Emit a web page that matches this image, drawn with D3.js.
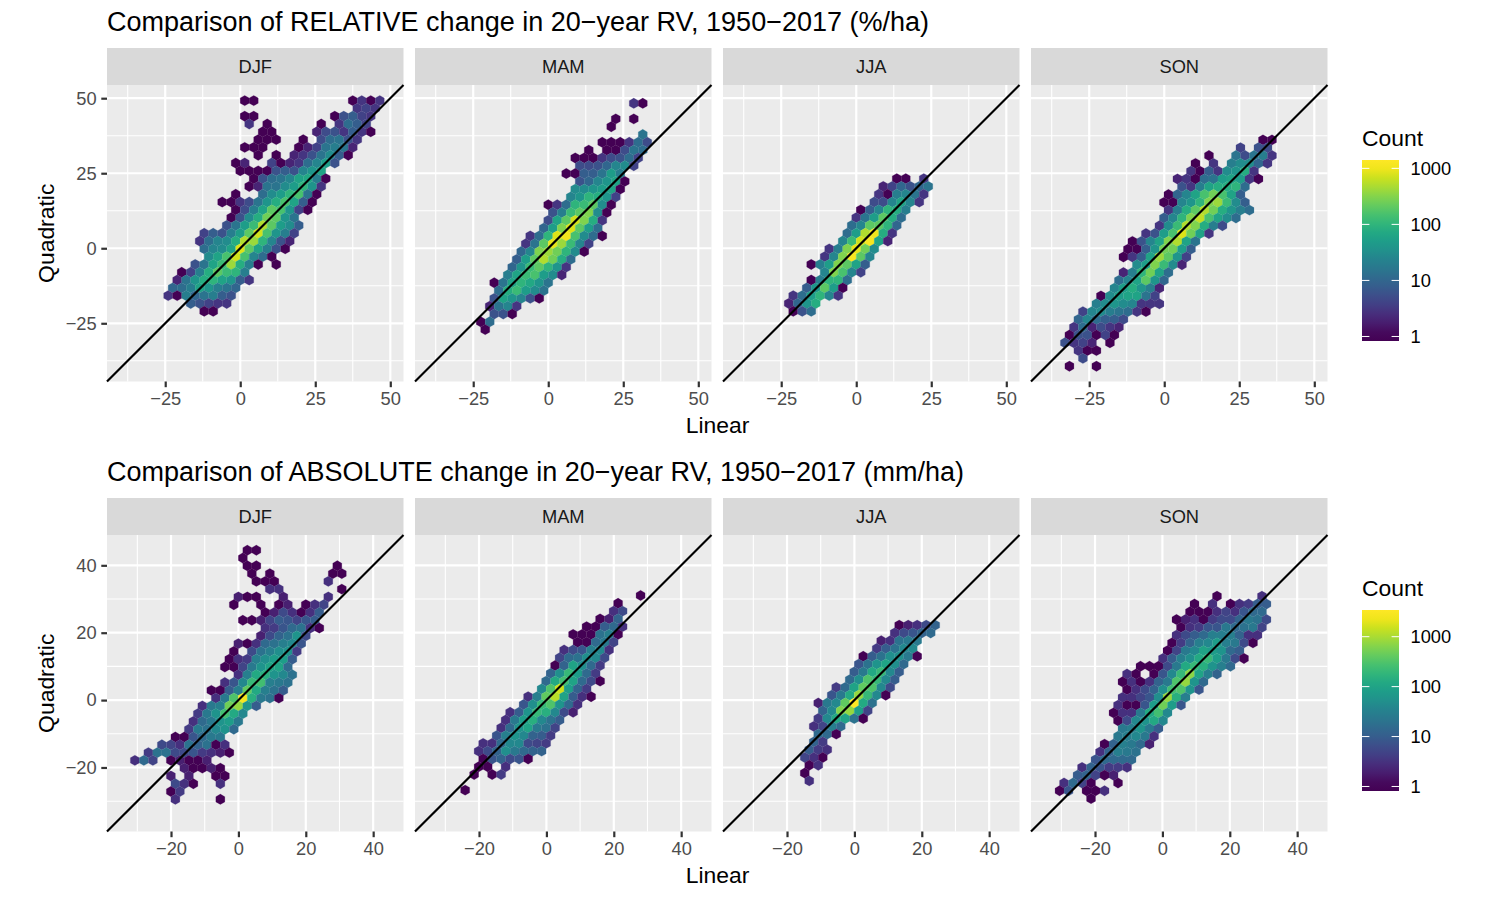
<!DOCTYPE html>
<html>
<head>
<meta charset="utf-8">
<script src="https://cdnjs.cloudflare.com/ajax/libs/d3/7.8.5/d3.min.js"></script>
<style>
html,body{margin:0;padding:0;background:#fff;}
svg{display:block;}
text{font-family:"Liberation Sans",Arial,sans-serif;}
</style>
</head>
<body>
<div id="chart"></div>
<script>
// Facet names, shared by both rows of panels
const seasons = ["DJF","MAM","JJA","SON"];

const relativeTitle = "Comparison of RELATIVE change in 20\u2212year RV, 1950\u22122017 (%/ha)";
const absoluteTitle = "Comparison of ABSOLUTE change in 20\u2212year RV, 1950\u22122017 (mm/ha)";

const relativeDomain = [-44.4, 54.4];
const absoluteDomain = [-39, 49];
const relativeTicks = [-25, 0, 25, 50];
const relativeMinor = [-37.5, -12.5, 12.5, 37.5];
const absoluteTicks = [-20, 0, 20, 40];
const absoluteMinor = [-30, -10, 10, 30];
const legendTicks = [1, 10, 100, 1000];
const relativeMaxCount = 1170;
const absoluteMaxCount = 2780;

// Hexagon bin widths in data units: [column spacing, row spacing]
const relativeBin = [3.0, 2.6];
const absoluteBin = [2.67, 2.31];

// Centre of the bin at row 0, half-column 0 for each panel
const relativeOrigins = [[1.49, 49.2], [28.5, 48.3], [13.5, 23.2], [32.9, 36.1]];
const absoluteOrigins = [[2.65, 44.48], [27.95, 31.04], [13.3, 22.24], [16.2, 30.84]];

// Bin counts, one entry per row from the top: [first half-column, count, count, ...]
// Successive counts sit two half-columns apart; 0 means an empty bin.
const relDJF = [
[0,1,1,0,0,0,0,0,0,0,0,0,0,1,3,1,3],
[25,3,4,3],
[0,1,1,0,0,0,0,0,0,0,0,1,6,8,4,3],
[1,3,0,1,0,0,0,0,0,1,0,3,12,8,4],
[4,1,1,0,0,0,0,2,5,6,3,8,3,1],
[3,1,1,1,0,0,1,0,5,12,15,6,3],
[0,1,1,1,0,0,0,1,2,4,15,20,15,2],
[3,1,0,1,0,2,3,6,15,30,8,1],
[-2,1,2,0,0,4,1,2,3,12,25,50,6],
[-1,1,1,1,1,6,8,6,25,40,60],
[2,1,6,12,15,25,60,70,20,1],
[1,1,2,15,15,30,50,100,40,3],
[-2,1,0,0,12,30,50,100,150,15,1],
[-5,1,1,3,5,15,40,80,150,60,8,1],
[-2,1,5,20,60,200,150,40,4,1],
[-3,1,6,30,80,250,200,40,15],
[-4,6,15,50,120,500,200,50,30,8],
[-9,4,8,6,20,50,200,700,150,40,20,4],
[-10,3,12,25,30,80,500,400,100,25,6,2],
[-9,12,25,30,60,800,200,60,20,6,1],
[-8,30,60,150,700,150,25,12,1],
[-11,6,15,60,120,400,80,20,1,0,1],
[-14,1,4,20,80,200,120,100,20],
[-15,2,15,40,80,100,60,40,8,3],
[-16,10,12,20,60,40,20,15,10],
[-17,3,1,20,10,15,20,8,6],
[-12,8,6,4,3,3],
[-9,1,1]
];
const relMAM = [
[0,3,1],
[],
[-4,1,0,1],
[-5,1],
[2,15],
[-7,1,1,1,3,12,5],
[-10,1,0,1,1,5,15,12],
[-13,1,1,1,3,5,6,12,4],
[-12,5,5,6,10,25,30,4],
[-15,1,1,8,8,15,50,20],
[-12,6,10,25,40,60,1],
[-13,30,30,40,50,60,1],
[-14,25,40,100,80,40,4],
[-19,1,3,12,100,120,200,30,1],
[-18,6,20,120,200,300,30,1],
[-19,5,60,200,700,300,80,3],
[-20,10,50,300,800,200,50,12],
[-23,3,12,100,800,1000,150,30,12,1],
[-24,3,15,200,900,400,120,25,4],
[-25,10,25,300,400,250,100,30,1],
[-26,8,50,200,500,250,80,12],
[-27,10,40,120,200,100,40,3],
[-28,20,60,120,150,50,30,2],
[-31,1,15,60,100,70,40,15],
[-30,12,80,120,50,30,15],
[-31,6,60,40,25,6,1],
[-32,2,15,25,3],
[-31,6,6,1],
[-34,1,12],
[-33,1]
];
const relJJA = [
[0,1,1,0,3],
[-3,2,4,10,6,10,15],
[-4,3,1,20,25,15,3],
[-5,5,5,25,60,25,3],
[-8,1,8,25,100,80,20],
[-9,3,15,50,200,80,12],
[-10,12,25,200,200,100,10],
[-11,12,50,500,1000,80,3],
[-12,25,120,700,1100,60,2],
[-15,3,20,300,900,250,30],
[-16,3,25,300,1100,200,25],
[-19,1,20,50,300,200,60,8],
[-16,25,300,150,25,4],
[-19,1,20,100,100,12],
[-20,8,40,200,50,1],
[-23,3,12,50,100,25,3],
[-24,2,10,40,80],
[-23,1,6,12]
];
const relSON = [
[0,1,1],
[-5,4,0,6,5],
[-12,1,0,0,15,5,15,20,3],
[-15,1,0,3,0,20,30,30,10,3],
[-16,3,1,8,3,30,40,80,3],
[-19,2,3,1,12,15,50,60,50,3,1],
[-18,6,3,20,60,80,80,100,12],
[-21,1,10,25,60,150,250,150,60,8],
[-22,1,1,25,40,100,300,400,120,30,8],
[-21,3,20,80,200,500,250,80,40,20,12],
[-22,8,25,100,300,600,150,60,30,12],
[-23,3,30,120,500,300,80,20,5],
[-26,3,6,50,150,800,250,60,3],
[-29,1,6,25,60,300,500,60,15],
[-30,1,1,8,40,250,250,50,8],
[-31,1,3,8,60,400,200,40,4],
[-28,30,50,300,120,30,2],
[-31,2,20,100,250,60,12],
[-32,12,25,60,200,40,10],
[-33,25,50,80,40,20,2],
[-36,1,30,50,60,60,15,4],
[-37,20,30,40,30,25,3,3,3],
[-40,4,25,30,20,15,12,3,1],
[-41,10,25,12,8,8,5],
[-42,3,12,2,5,3,2],
[-43,1,6,6,1,4,1],
[-44,6,3,4,2,0,1],
[-41,3,1,1],
[-40,5],
[-43,1,0,0,1]
];
const absDJF = [
[0,1,1],
[-1,1],
[0,1,1,0,0,0,0,0,0,0,0,1],
[1,1,0,1,0,0,0,0,0,0,1,1],
[2,1,1,1,0,0,0,0,0,3],
[5,3,3,0,0,0,0,0,0,1],
[-2,2,1,1,0,0,2,0,0,0,0,3],
[-3,1,0,0,1,0,1,2,0,1,3,5],
[4,1,2,6,3,1,3,10],
[-1,1,1,2,5,10,8,5,8,10],
[4,3,4,8,15,20,3,1],
[3,2,6,12,20,60,6],
[-2,2,1,3,15,20,30,40,8],
[-3,1,0,6,20,30,50,60,4],
[-4,1,3,4,30,50,80,80,10],
[-5,1,1,5,25,60,100,100,15],
[-2,3,30,120,150,60,40,20],
[-5,3,8,40,200,250,30,25,20],
[-8,1,1,10,30,400,120,30,20,10],
[-7,3,25,300,2500,150,25,20,1],
[-10,3,25,30,500,800,60,10],
[-11,4,25,60,250,120,40],
[-12,3,15,25,60,80,25],
[-13,4,25,20,40,60,15],
[-16,1,1,8,15,25,25],
[-19,6,5,3,20,12,20,1,3],
[-22,4,20,20,6,6,8,4,3,2,1],
[-25,3,15,5,0,1,2,1,1,2],
[-14,2,1,1,2,1],
[-17,2,0,2,0,0,1,1],
[-16,6,3,1,0,0,3],
[-17,1,4],
[-16,3,0,0,0,0,1]
];
const absMAM = [
[0,1],
[-5,1],
[-6,3,6],
[-9,1,2,12],
[-12,1,1,10,15,3],
[-15,1,1,1,20,30,1],
[-14,1,1,15,25,5],
[-17,3,6,8,30,40,3],
[-18,5,15,20,50,40,6],
[-19,1,12,100,50,15,4],
[-20,12,50,200,80,15,4],
[-21,15,120,250,100,15,6,1],
[-22,40,300,1500,80,12,4],
[-25,3,30,400,1200,100,10,3,1],
[-26,8,50,200,300,60,15,3],
[-29,3,10,60,200,150,40,6,2],
[-30,3,25,80,150,40,20,10],
[-31,3,15,60,100,25,20,5],
[-32,8,30,60,40,12,10,4],
[-35,3,3,15,40,40,6,5,4],
[-36,3,6,12,50,25,15,12,12],
[-35,1,8,12,6,8,1],
[-36,1,1,0,3],
[-37,1,0,1,4],
[],
[-39,1]
];
const absJJA = [
[0,1,2,3,6,12],
[-1,3,6,8,12,15],
[-4,2,3,20,25,25],
[-5,4,10,20,40,40],
[-8,1,10,20,50,50,25,1],
[-9,8,20,60,100,50,15],
[-10,10,25,120,200,40,10],
[-11,15,50,300,200,40,10],
[-14,4,15,100,400,300,40,6],
[-15,8,25,120,800,200,40,1],
[-18,2,25,40,400,2700,120,20],
[-17,12,40,600,800,80,5],
[-18,4,40,120,100,20,1],
[-19,3,5,30,15],
[-18,15,15,1],
[-19,12,4],
[-20,10,4,3],
[-21,5,3,1],
[-20,1,3],
[-21,1],
[-20,3]
];
const absSON = [
[0,1,0,0,0,0,3],
[-5,1,0,3,0,1,3,4,10,10],
[-6,1,1,1,3,5,3,8,15,15],
[-9,1,2,3,1,4,6,6,12,25,20,6],
[-8,1,3,4,8,8,25,15,20,25,5],
[-9,3,6,10,15,30,30,30,12,3,3],
[-10,1,4,12,30,40,80,30,25,6,1],
[-11,1,5,25,40,100,80,60,15,10],
[-12,3,10,30,50,120,200,80,25,6,1],
[-17,1,1,1,6,25,120,200,150,60,30,15],
[-20,3,1,0,1,8,40,200,700,100,30,12],
[-21,1,3,1,3,12,25,300,800,60,15],
[-20,1,3,6,12,50,250,300,60,8],
[-21,3,3,5,8,50,800,150,30],
[-22,3,1,1,8,80,500,80,8],
[-23,1,3,3,25,120,250,40],
[-22,1,6,40,60,120,40],
[-21,25,30,60,25,10],
[-22,25,30,40,25,3],
[-25,1,12,30,25,15,2],
[-26,3,12,30,25,20],
[-27,8,15,15,15,15],
[-30,3,12,8,4,4,3],
[-31,10,12,5,1,2],
[-34,3,15,5,1,0,0,1],
[-35,1,8,0,1,1,3],
[-28,1]
];

const relativeBins = [relDJF, relMAM, relJJA, relSON];
const absoluteBins = [absDJF, absMAM, absJJA, absSON];

const panelLefts = [107, 415, 723, 1031];
const panelWidth = 296.5;
const panelHeight = 296.5;
const stripHeight = 37;

const svg = d3.select("#chart").append("svg").attr("width", 1500).attr("height", 900);
svg.append("rect").attr("width", 1500).attr("height", 900).attr("fill", "#fff");

const gradientCounter = {n: 0};

// Turn the compact row lists into one record per occupied bin
function expandBins(rows, origin, bin) {
  const out = [];
  rows.forEach((row, r) => {
    if (!row.length) return;
    row.slice(1).forEach((count, i) => {
      if (!count) return;
      const c = row[0] + i * 2;
      out.push({x: origin[0] + c * bin[0] / 2, y: origin[1] - r * bin[1], count});
    });
  });
  return out;
}

function styleAxis(sel) {
  sel.select(".domain").remove();
  sel.selectAll("line").attr("stroke", "#333333").attr("stroke-width", 2.2);
  sel.selectAll("text").attr("font-size", 18.3).attr("fill", "#4D4D4D")
    .attr("font-family", '"Liberation Sans",Arial,sans-serif');
}

function drawRow(cfg) {
  const {top, title, domain, ticks, minor, bins, origins, bin, maxCount} = cfg;
  const panelTop = top + stripHeight;

  svg.append("text").attr("x", 107).attr("y", top - 17).attr("font-size", 27)
    .attr("fill", "#000").text(title);

  const y = d3.scaleLinear().domain(domain).range([panelTop + panelHeight, panelTop]);
  const t = d3.scaleLog().domain([1, maxCount]).range([0, 1]);
  const fill = c => d3.interpolateViridis(t(c));
  const hexLine = d3.line();

  seasons.forEach((name, k) => {
    const left = panelLefts[k];
    const x = d3.scaleLinear().domain(domain).range([left, left + panelWidth]);
    const g = svg.append("g");

    // facet strip
    g.append("rect").attr("x", left).attr("y", top).attr("width", panelWidth)
      .attr("height", stripHeight).attr("fill", "#D9D9D9");
    g.append("text").attr("x", left + panelWidth / 2).attr("y", top + 24.6)
      .attr("text-anchor", "middle").attr("font-size", 18.3).attr("fill", "#1A1A1A").text(name);

    // panel background and grid
    g.append("rect").attr("x", left).attr("y", panelTop).attr("width", panelWidth)
      .attr("height", panelHeight).attr("fill", "#EBEBEB");
    const grid = g.append("g").attr("stroke", "#fff").attr("fill", "none");
    minor.forEach(v => {
      grid.append("line").attr("x1", x(v)).attr("x2", x(v)).attr("y1", panelTop)
        .attr("y2", panelTop + panelHeight).attr("stroke-width", 1.1);
      grid.append("line").attr("y1", y(v)).attr("y2", y(v)).attr("x1", left)
        .attr("x2", left + panelWidth).attr("stroke-width", 1.1);
    });
    ticks.forEach(v => {
      grid.append("line").attr("x1", x(v)).attr("x2", x(v)).attr("y1", panelTop)
        .attr("y2", panelTop + panelHeight).attr("stroke-width", 2.2);
      grid.append("line").attr("y1", y(v)).attr("y2", y(v)).attr("x1", left)
        .attr("x2", left + panelWidth).attr("stroke-width", 2.2);
    });

    // hexagonal bins
    const hw = bin[0] / 2, hh = bin[1] * 2 / 3, hs = bin[1] / 3;
    g.append("g").selectAll("path").data(expandBins(bins[k], origins[k], bin)).join("path")
      .attr("fill", d => fill(d.count))
      .attr("stroke", d => fill(d.count))
      .attr("stroke-width", 0.2)
      .attr("d", d => hexLine([
        [x(d.x), y(d.y + hh)], [x(d.x + hw), y(d.y + hs)], [x(d.x + hw), y(d.y - hs)],
        [x(d.x), y(d.y - hh)], [x(d.x - hw), y(d.y - hs)], [x(d.x - hw), y(d.y + hs)]
      ]) + "Z");

    // one-to-one reference line
    g.append("line").attr("x1", x(domain[0])).attr("y1", y(domain[0]))
      .attr("x2", x(domain[1])).attr("y2", y(domain[1]))
      .attr("stroke", "#000").attr("stroke-width", 2.2);

    // bottom axis
    g.append("g").attr("transform", `translate(0,${panelTop + panelHeight})`)
      .call(d3.axisBottom(x).tickValues(ticks).tickSize(5.7).tickPadding(4.6))
      .call(styleAxis);

    // left axis on the first facet only
    if (k === 0) {
      g.append("g").attr("transform", `translate(${left},0)`)
        .call(d3.axisLeft(y).tickValues(ticks.filter(v => y(v) > panelTop)).tickSize(5.7).tickPadding(4.6))
        .call(styleAxis);
    }
  });

  // axis titles
  svg.append("text").attr("x", 717.5).attr("y", panelTop + panelHeight + 51)
    .attr("text-anchor", "middle").attr("font-size", 22.9).attr("fill", "#000").text("Linear");
  svg.append("text").attr("text-anchor", "middle").attr("font-size", 22.9).attr("fill", "#000")
    .attr("transform", `translate(54,${panelTop + panelHeight / 2}) rotate(-90)`).text("Quadratic");

  // colour bar legend
  const barX = 1362, barW = 37, barH = 181;
  const barTop = top + 112;
  const inset = barH / 40;
  const barScale = d3.scaleLog().domain([1, maxCount]).range([barTop + barH - inset, barTop + inset]);
  const gid = "bar" + (gradientCounter.n++);
  const grad = svg.append("defs").append("linearGradient").attr("id", gid)
    .attr("x1", 0).attr("x2", 0).attr("y1", 1).attr("y2", 0);
  d3.range(0, 21).forEach(i => {
    grad.append("stop").attr("offset", i / 20)
      .attr("stop-color", d3.interpolateViridis(Math.min(1, Math.max(0, (i / 20 * barH - inset) / (barH - 2 * inset)))));
  });
  svg.append("text").attr("x", barX).attr("y", barTop - 14).attr("font-size", 22.9).attr("fill", "#000").text("Count");
  svg.append("rect").attr("x", barX).attr("y", barTop).attr("width", barW).attr("height", barH)
    .attr("fill", `url(#${gid})`);
  legendTicks.forEach(v => {
    const yy = barScale(v);
    [[barX, barX + 7.4], [barX + barW - 7.4, barX + barW]].forEach(p => {
      svg.append("line").attr("x1", p[0]).attr("x2", p[1]).attr("y1", yy).attr("y2", yy)
        .attr("stroke", "#fff").attr("stroke-width", 1);
    });
    svg.append("text").attr("x", 1410.5).attr("y", yy + 6.6).attr("font-size", 18.3).attr("fill", "#000")
      .text(d3.format("d")(v));
  });
}

drawRow({top: 48, title: relativeTitle, domain: relativeDomain, ticks: relativeTicks, minor: relativeMinor,
  bins: relativeBins, origins: relativeOrigins, bin: relativeBin, maxCount: relativeMaxCount});
drawRow({top: 498, title: absoluteTitle, domain: absoluteDomain, ticks: absoluteTicks, minor: absoluteMinor,
  bins: absoluteBins, origins: absoluteOrigins, bin: absoluteBin, maxCount: absoluteMaxCount});
</script>
</body>
</html>
